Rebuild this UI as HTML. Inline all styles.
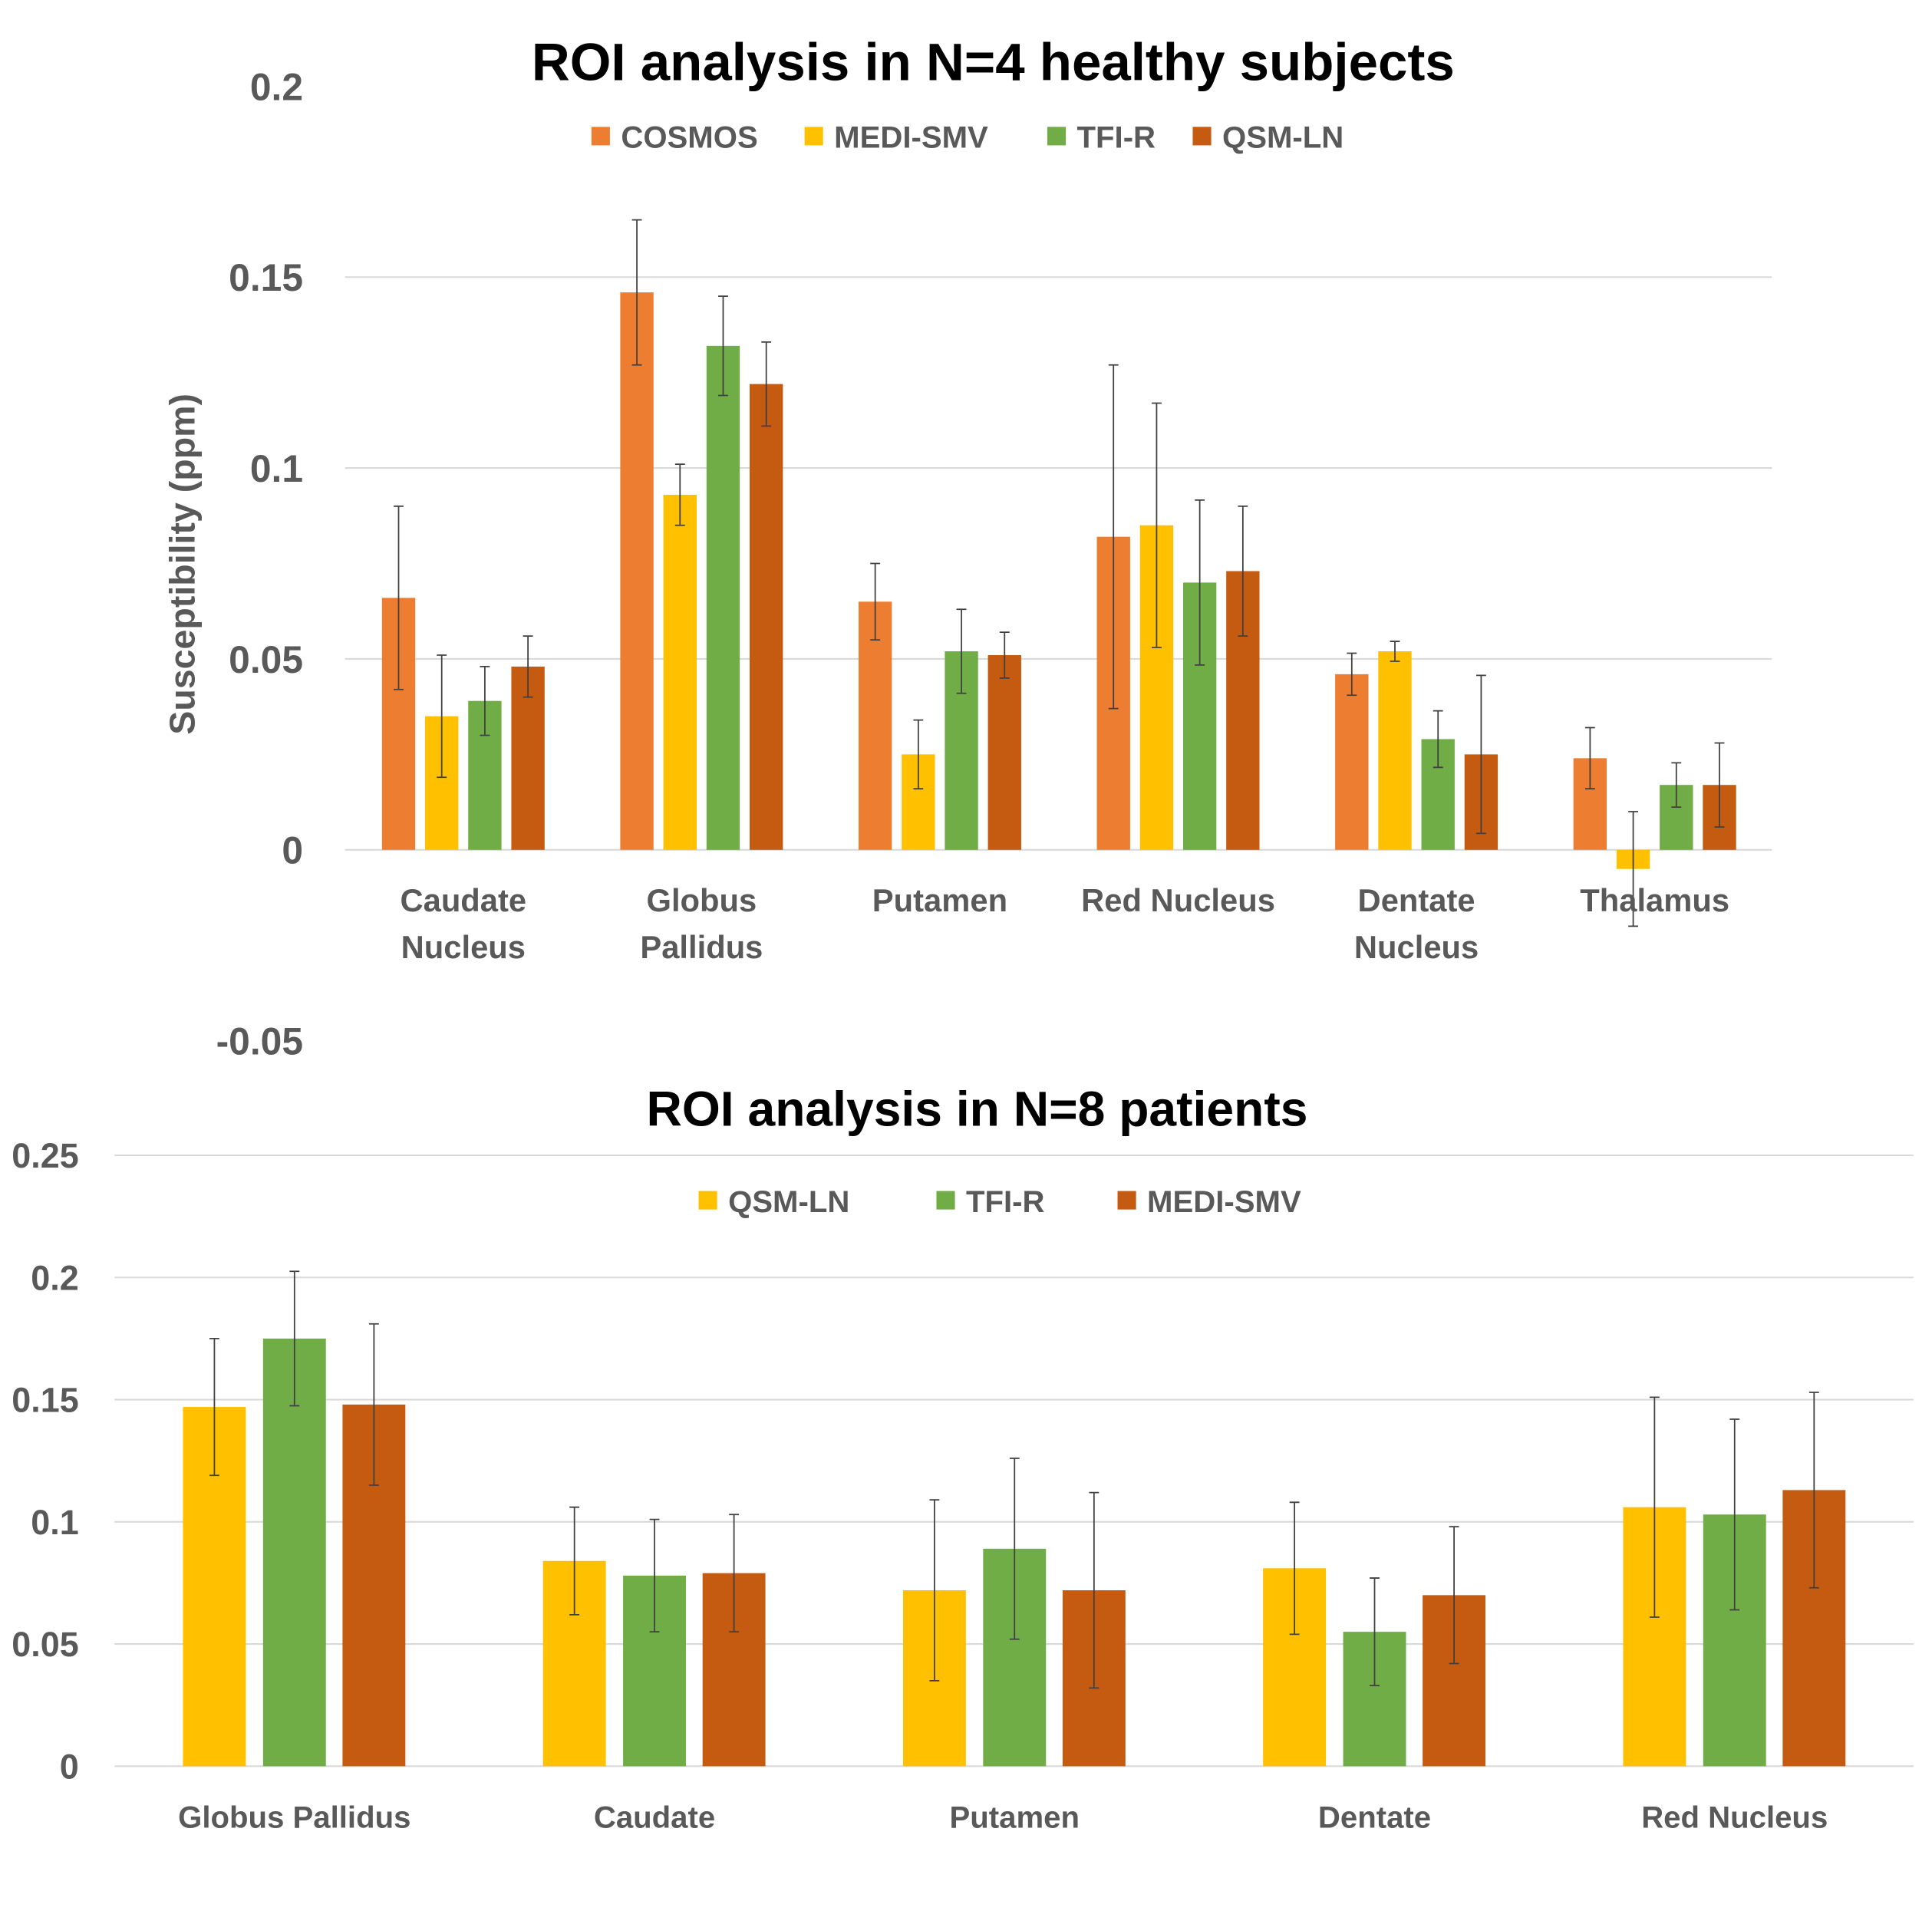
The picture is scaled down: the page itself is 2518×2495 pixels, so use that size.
<!DOCTYPE html>
<html><head><meta charset="utf-8"><style>
html,body{margin:0;padding:0;background:#fff;}
svg{display:block;}
text{font-family:"Liberation Sans",sans-serif;font-weight:bold;}
</style></head><body>
<svg id="svg" xmlns="http://www.w3.org/2000/svg" width="2518" height="2495" viewBox="0 0 1568 1554" preserveAspectRatio="none">
<rect width="1568" height="1554" fill="#fff"/>
<g id="top"></g>
<g id="bot"></g>
</svg>
<script>
const NS="http://www.w3.org/2000/svg";
// ---- top chart data ----
const topCats=[["Caudate","Nucleus"],["Globus","Pallidus"],["Putamen"],["Red Nucleus"],["Dentate","Nucleus"],["Thalamus"]];
const topSeries=["COSMOS","MEDI-SMV","TFI-R","QSM-LN"];
const topCosmos=[0.066,0.146,0.065,0.082,0.046,0.024];
const topMedi=[0.035,0.093,0.025,0.085,0.052,-0.005];
const topTfi=[0.039,0.132,0.052,0.070,0.029,0.017];
const topQsm=[0.048,0.122,0.051,0.073,0.025,0.017];
const topCosmosErr=[0.024,0.019,0.010,0.045,0.0055,0.008];
const topMediErr=[0.016,0.008,0.009,0.032,0.0026,0.015];
const topTfiErr=[0.009,0.013,0.011,0.0216,0.0074,0.0058];
const topQsmErr=[0.008,0.011,0.006,0.017,0.0207,0.011];
const topTicks=[0.2,0.15,0.1,0.05,0,-0.05];
const topTickLabels=["0.2","0.15","0.1","0.05","0","-0.05"];
// ---- bottom chart data ----
const botCats=["Globus Pallidus","Caudate","Putamen","Dentate","Red Nucleus"];
const botSeries=["QSM-LN","TFI-R","MEDI-SMV"];
const botQsm=[0.147,0.084,0.072,0.081,0.106];
const botTfi=[0.175,0.078,0.089,0.055,0.103];
const botMedi=[0.148,0.079,0.072,0.070,0.113];
const botQsmErr=[0.028,0.022,0.037,0.027,0.045];
const botTfiErr=[0.0275,0.023,0.037,0.022,0.039];
const botMediErr=[0.033,0.024,0.040,0.028,0.040];
const botTicks=[0.25,0.2,0.15,0.1,0.05,0];
const botTickLabels=["0.25","0.2","0.15","0.1","0.05","0"];

function el(parent,tag,attrs,txt){const e=document.createElementNS(NS,tag);for(const k in attrs)e.setAttribute(k,attrs[k]);if(txt!==undefined)e.textContent=txt;parent.appendChild(e);return e;}

function chart(g,o){
  const y=v=>o.y0-(v/0.05)*o.pxPer05;
  o.ticks.forEach((t,i)=>{
    if(o.grid.includes(t)){const l=el(g,'line',{x1:o.gx0,x2:o.gx1,y1:y(t),y2:y(t),stroke:'#d9d9d9','stroke-width':1.3});
    
    }
    const tx=el(g,'text',{x:o.labX,y:y(t)+o.tickFs*0.36,'text-anchor':'end','font-size':o.tickFs,fill:'#595959'},o.tickLabels[i]);
    
    
  });
  o.cats.forEach((c,ci)=>{
    const cx=o.c0+ci*o.step;
    o.vals.forEach((arr,si)=>{
      const bx=cx+o.offs[si]-o.bw/2, v=arr[ci];
      const r=el(g,'rect',{x:bx,y:Math.min(y(v),y(0)),width:o.bw,height:Math.abs(y(v)-y(0)),fill:o.colors[si]});
      
      
      const e=o.errs[si][ci], ex=cx+o.offs[si];
      const eb=el(g,'path',{d:`M${ex},${y(v+e)}V${y(v-e)}M${ex-4},${y(v+e)}H${ex+4}M${ex-4},${y(v-e)}H${ex+4}`,stroke:'#404040','stroke-width':1.1,fill:'none'});
      
      
    });
    const lines=Array.isArray(c)?c:[c];
    lines.forEach((ln,li)=>{
      const t=el(g,'text',{x:cx,y:o.catY+li*38,'text-anchor':'middle','font-size':o.catFs,fill:'#595959'},ln);
      
      
    });
  });
  const ti=el(g,'text',{x:o.titleX,y:o.titleY,'text-anchor':'middle','font-size':o.titleFs,fill:'#000'},o.title);
  
  
  o.series.forEach((s,si)=>{
    const lx=o.legX[si];
    const sq=el(g,'rect',{x:lx,y:o.legY-8,width:15,height:15,fill:o.colors[si]});
    
    
    const lt=el(g,'text',{x:lx+24,y:o.legY+9,'font-size':o.legFs,fill:'#595959'},s);
    
    
  });
}
chart(document.getElementById('top'),{
  y0:690,pxPer05:155,gx0:280,gx1:1438,grid:[0.15,0.1,0.05,0],ticks:topTicks,tickLabels:topTickLabels,labX:246,tickFs:31,
  cats:topCats,c0:376,step:193.4,offs:[-52.5,-17.5,17.5,52.5],bw:27,
  vals:[topCosmos,topMedi,topTfi,topQsm],errs:[topCosmosErr,topMediErr,topTfiErr,topQsmErr],
  colors:['#ED7D31','#FFC000','#70AD47','#C55A11'],catY:740,catFs:26,
  title:'ROI analysis in N=4 healthy subjects',titleX:806,titleY:65,titleFs:43,
  series:topSeries,legX:[480,653,850,968],legY:111,legFs:25
});
chart(document.getElementById('bot'),{
  y0:1434,pxPer05:99.2,gx0:93,gx1:1553,grid:[0.25,0.2,0.15,0.1,0.05,0],ticks:botTicks,tickLabels:botTickLabels,labX:64,tickFs:28,
  cats:botCats,c0:239,step:292.2,offs:[-65,0,64.5],bw:51,
  vals:[botQsm,botTfi,botMedi],errs:[botQsmErr,botTfiErr,botMediErr],
  colors:['#FFC000','#70AD47','#C55A11'],catY:1484,catFs:25,
  title:'ROI analysis in N=8 patients',titleX:793,titleY:914,titleFs:40,
  series:botSeries,legX:[567,760,907],legY:975,legFs:25
});
const yt=el(document.getElementById('top'),'text',{x:0,y:0,transform:'translate(158,458) rotate(-90)','text-anchor':'middle','font-size':29,fill:'#595959'},'Susceptibility (ppm)');


</script>
</body></html>
